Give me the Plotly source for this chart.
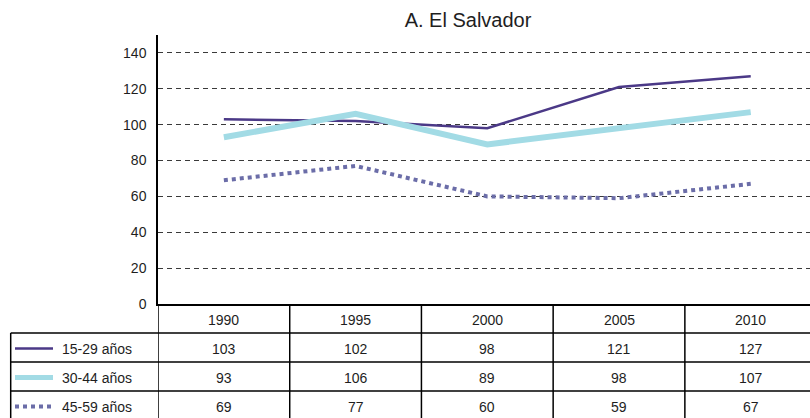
import plotly.graph_objects as go

# Data
years = ["1990", "1995", "2000", "2005", "2010"]
group_labels = ["15-29 años", "30-44 años", "45-59 años"]
g15_29 = [103, 102, 98, 121, 127]
g30_44 = [93, 106, 89, 98, 107]
g45_59 = [69, 77, 60, 59, 67]

series = [g15_29, g30_44, g45_59]
colors = ["#4b3987", "#a2dbe5", "#6b6da8"]
widths = [2.5, 6, 4]
dashes = ["solid", "solid", "4px,4px"]

W, H = 810, 418
M_L, M_R, M_T, M_B = 158, 0, 35, 114
PLOT_W = W - M_L - M_R
PLOT_H = H - M_T - M_B
ROW_H = 29
FONT = "Liberation Sans, Arial, sans-serif"
TXT = "#1e1e1e"


def py(px):
    """pixel row -> paper y"""
    return (H - M_B - px) / PLOT_H


def pxx(px):
    """pixel column -> paper x"""
    return (px - M_L) / PLOT_W


xpos = list(range(len(years)))

fig = go.Figure()
for vals, col, w, d in zip(series, colors, widths, dashes):
    fig.add_trace(go.Scatter(
        x=xpos, y=vals, mode="lines",
        line=dict(color=col, width=w, dash=d),
        hoverinfo="skip", showlegend=False,
    ))

shapes = []
annotations = []

base = H - M_B  # pixel row of the zero line
row_edges = [base + ROW_H * i for i in range(1, 4)]
bottom = H + 2
left_edge = 10.7

# horizontal table rules
for r in row_edges:
    shapes.append(dict(type="line", xref="paper", yref="paper",
                       x0=pxx(left_edge), x1=1, y0=py(r), y1=py(r),
                       line=dict(color="black", width=1.5)))
# left column border
shapes.append(dict(type="line", xref="paper", yref="paper",
                   x0=pxx(left_edge), x1=pxx(left_edge),
                   y0=py(row_edges[0]), y1=py(bottom),
                   line=dict(color="black", width=1.5)))
# column dividers (category boundaries)
for i in range(len(years)):
    shapes.append(dict(type="line", xref="x", yref="paper",
                       x0=i - 0.5, x1=i - 0.5, y0=0, y1=py(bottom),
                       line=dict(color="black", width=1.5)))

cell_font = dict(size=14, color=TXT, family=FONT)

# header row: years
for i, yr in enumerate(years):
    annotations.append(dict(x=i, y=py(base + ROW_H / 2 + 1), xref="x", yref="paper",
                            text=yr, showarrow=False, xanchor="center", yanchor="middle",
                            font=cell_font))

# data rows with legend samples
for k, (lab, vals, col, w, d) in enumerate(zip(group_labels, series, colors, widths, dashes)):
    yc = py(base + ROW_H * (k + 1) + ROW_H / 2 + 1)
    sw = min(w, 5)
    shapes.append(dict(type="line", xref="paper", yref="paper",
                       x0=pxx(15), x1=pxx(53), y0=yc, y1=yc,
                       line=dict(color=col, width=sw, dash="solid" if d == "solid" else "4px,4px")))
    annotations.append(dict(x=pxx(60), y=yc, xref="paper", yref="paper",
                            text=lab, showarrow=False, xanchor="left", yanchor="middle",
                            font=cell_font))
    for i, v in enumerate(vals):
        annotations.append(dict(x=i, y=yc, xref="x", yref="paper",
                                text=str(v), showarrow=False,
                                xanchor="center", yanchor="middle",
                                font=cell_font))

fig.update_layout(
    width=W, height=H,
    margin=dict(l=M_L, r=M_R, t=M_T, b=M_B, pad=0),
    paper_bgcolor="white", plot_bgcolor="white",
    font=dict(family=FONT, size=14, color=TXT),
    title=dict(text="A. El Salvador", x=468 / W, xanchor="center",
               y=1 - 20 / H, yanchor="middle",
               font=dict(size=20, color=TXT, family=FONT)),
    xaxis=dict(range=[-0.5, 4.45], showgrid=False, zeroline=False,
               showticklabels=False, ticks="",
               showline=True, linecolor="black", linewidth=1.5),
    yaxis=dict(range=[0, 150], tickvals=[0, 20, 40, 60, 80, 100, 120, 140],
               showgrid=True, gridcolor="#3a3a3a", gridwidth=1, griddash="5px,4px",
               zeroline=False, ticks="", ticklabelstandoff=7,
               showline=True, linecolor="black", linewidth=1.5,
               tickfont=dict(size=14, color=TXT, family=FONT)),
    shapes=shapes,
    annotations=annotations,
)

fig.write_html("out.html")
